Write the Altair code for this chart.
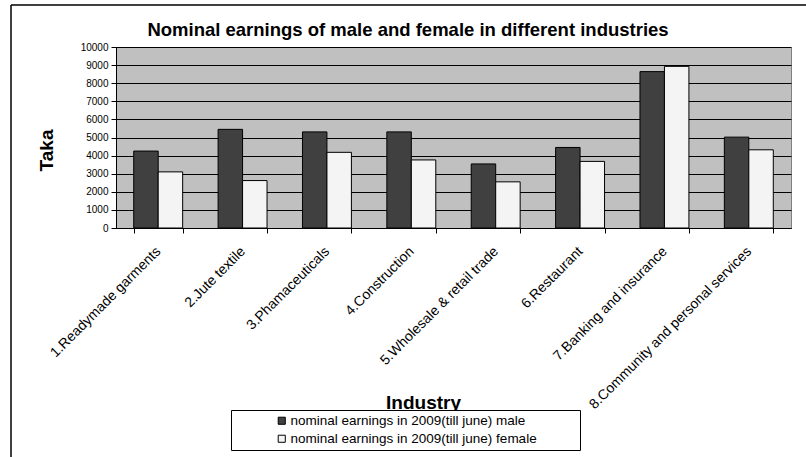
import altair as alt
import pandas as pd

industries = [
    "1.Readymade garments",
    "2.Jute textile",
    "3.Phamaceuticals",
    "4.Construction",
    "5.Wholesale & retail trade",
    "6.Restaurant",
    "7.Banking and insurance",
    "8.Community and personal services",
]
male = [4250, 5450, 5310, 5310, 3540, 4450, 8640, 5020]
female = [3100, 2620, 4180, 3760, 2550, 3680, 8930, 4320]
series = [
    "nominal earnings in 2009(till june) male",
    "nominal earnings in 2009(till june) female",
]
y_ticks = list(range(0, 10001, 1000))
chart_title = "Nominal earnings of male and female in different industries"

rows = []
for i, ind in enumerate(industries):
    rows.append({"industry": ind, "series": series[0], "value": male[i]})
    rows.append({"industry": ind, "series": series[1], "value": female[i]})
df = pd.DataFrame(rows)

FONT = "Liberation Sans"

bars = alt.Chart(df).mark_bar(stroke="black", strokeWidth=1).encode(
    x=alt.X(
        "industry:N",
        sort=industries,
        scale=alt.Scale(paddingInner=0.42, paddingOuter=0.21),
        axis=alt.Axis(
            title="Industry",
            labelAngle=-45,
            labelAlign="right",
            labelBaseline="middle",
            labelFontSize=14,
            labelFont=FONT,
            labelColor="black",
            labelPadding=16,
            labelLimit=300,
            tickBand="extent",
            tickSize=5,
            tickColor="black",
            domainColor="black",
            titleFont=FONT,
            titleFontSize=19,
            titleFontWeight="bold",
            titleColor="black",
            titleX=307,
            titleY=180,
            titleAlign="center",
            titleBaseline="alphabetic",
            grid=False,
        ),
    ),
    xOffset=alt.XOffset("series:N", sort=series, scale=alt.Scale(paddingInner=0, paddingOuter=0)),
    y=alt.Y(
        "value:Q",
        scale=alt.Scale(domain=[0, 10000], nice=False),
        axis=alt.Axis(
            title="Taka",
            values=y_ticks,
            format="d",
            labelFontSize=10,
            labelFont=FONT,
            labelColor="black",
            labelPadding=3,
            tickSize=5,
            tickColor="black",
            domainColor="black",
            gridColor="black",
            gridWidth=1,
            titleFont=FONT,
            titleFontSize=19,
            titleFontWeight="bold",
            titleColor="black",
            titleX=-64,
            titleY=103,
            titleBaseline="alphabetic",
            titleAlign="center",
        ),
    ),
    fill=alt.Fill(
        "series:N",
        sort=series,
        scale=alt.Scale(domain=series, range=["#404040", "#f4f4f4"]),
        legend=alt.Legend(
            title="MMM",
            titleOrient="right",
            titleFontSize=13.5,
            titleOpacity=0,
            titlePadding=5,
            orient="none",
            legendX=115,
            legendY=363,
            direction="vertical",
            strokeColor="black",
            fillColor="white",
            padding=4,
            symbolOffset=40,
            symbolType="square",
            symbolSize=50,
            symbolStrokeColor="black",
            symbolStrokeWidth=1,
            labelFont=FONT,
            labelFontSize=13.5,
            labelColor="black",
            labelLimit=400,
            labelOffset=2,
            rowPadding=3,
        ),
    ),
)

title_text = alt.Chart().mark_text(
    font=FONT, fontSize=18.5, fontWeight="bold", color="black", align="center", baseline="alphabetic"
).encode(x=alt.value(292), y=alt.value(-11), text=alt.value(chart_title))

frame_left = alt.Chart().mark_rule(color="black", strokeWidth=1.5).encode(
    x=alt.value(-105), y=alt.value(-42), y2=alt.value(420)
)
frame_top = alt.Chart().mark_rule(color="black", strokeWidth=1.5).encode(
    x=alt.value(-105), x2=alt.value(700), y=alt.value(-42)
)

chart = (
    alt.layer(bars, title_text, frame_left, frame_top)
    .properties(
        width=675,
        height=181,
        autosize=alt.AutoSizeParams(type="none"),
        padding={"left": 116, "top": 47, "right": 15, "bottom": 229},
        background="white",
    )
    .configure_view(fill="#C0C0C0", stroke="#808080", strokeWidth=1)
)

chart.save("out.html", embed_options={"renderer": "svg", "actions": False})
